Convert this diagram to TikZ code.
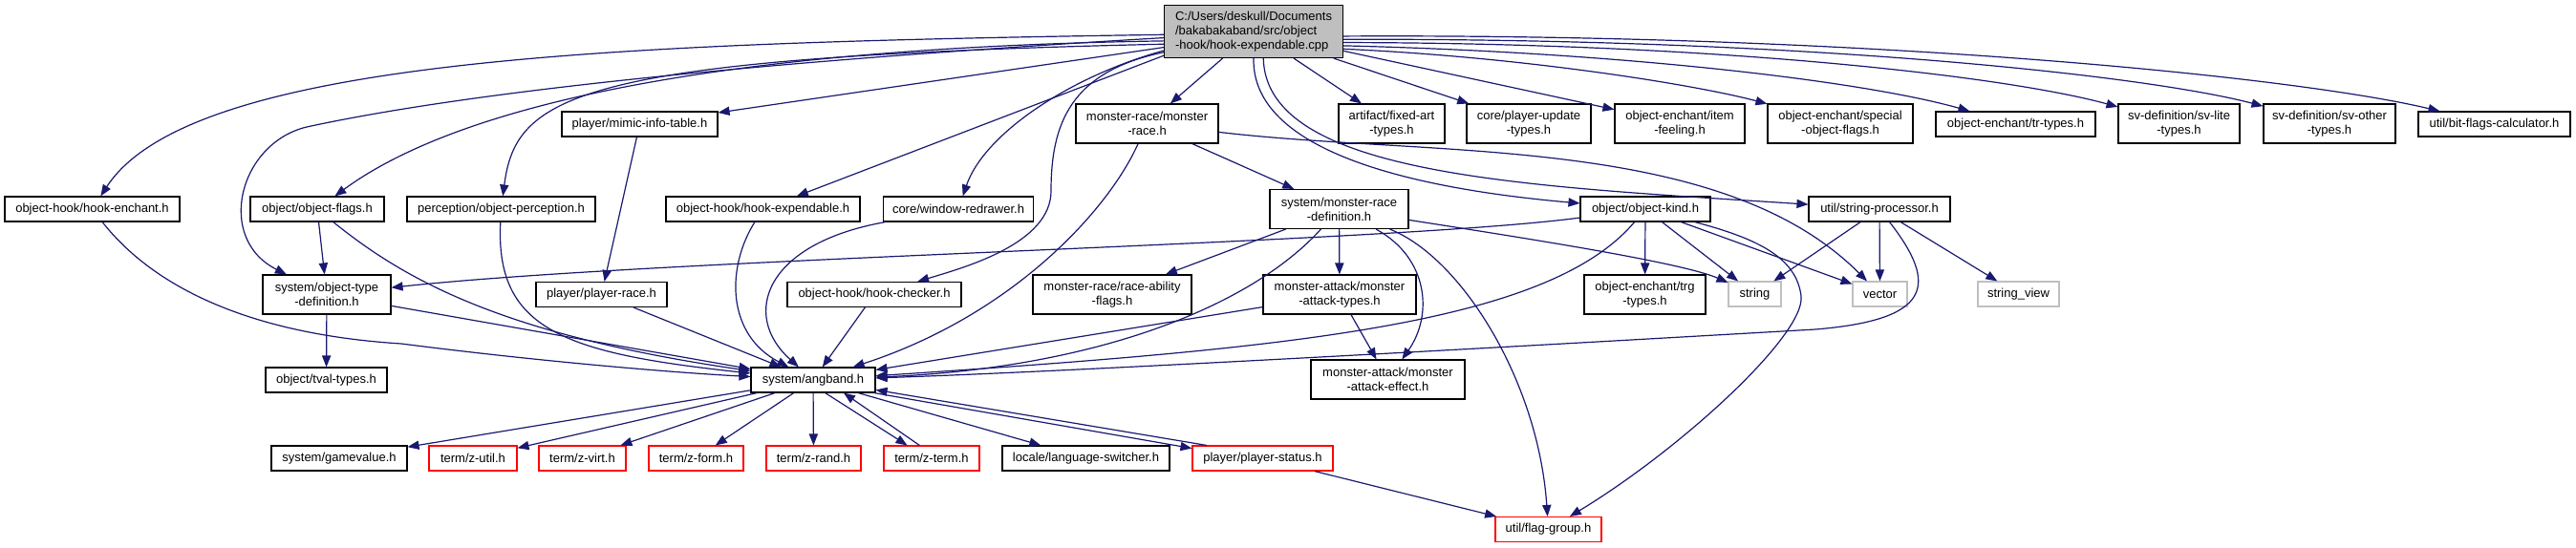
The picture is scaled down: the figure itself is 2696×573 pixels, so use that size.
\documentclass[tikz,border=0pt]{standalone}
\usepackage{fontspec}
\setmainfont{Liberation Sans}
\usetikzlibrary{arrows.meta}
\definecolor{edgeblue}{HTML}{191970}
\definecolor{rootgray}{HTML}{BFBFBF}

\begin{document}
\begin{tikzpicture}[
		x=0.5pt, y=-0.5pt,
		hdr/.style={draw=black, fill=white, line width=0.55pt, inner sep=0pt, align=center, minimum height=13pt, font=\fontsize{6.5}{7.5}\selectfont},
		tall/.style={minimum height=20.5pt},
		rootfile/.style={hdr, fill=rootgray, align=left, minimum height=27.5pt},
		trunc/.style={hdr, draw=red},
		sysfile/.style={hdr, draw=rootgray},
		arrow/.style={-{Triangle[length=6pt, width=4.6pt]}, draw=edgeblue, line width=0.6pt}
	]
		\fill[white] (0,0) rectangle (2696,573);
		\useasboundingbox (0,0) rectangle (2696,573);
		\node[rootfile, minimum width=93.5pt] (root) at (1312,33) {C:/Users/deskull/Documents\\/bakabakaband/src/object\\-hook/hook-expendable.cpp};
		\node[hdr, minimum width=81.5pt] (mimic) at (669.5,130) {player/mimic-info-table.h};
		\node[hdr, tall, minimum width=74.5pt] (monrace) at (1200.5,129.5) {monster-race/monster\\-race.h};
		\node[hdr, tall, minimum width=55.5pt] (artifact) at (1456.5,129.5) {artifact/fixed-art\\-types.h};
		\node[hdr, tall, minimum width=65pt] (plupd) at (1600,129.5) {core/player-update\\-types.h};
		\node[hdr, tall, minimum width=68pt] (itemfeel) at (1758,129.5) {object-enchant/item\\-feeling.h};
		\node[hdr, tall, minimum width=76pt] (specflags) at (1926,129.5) {object-enchant/special\\-object-flags.h};
		\node[hdr, minimum width=83.5pt] (trtypes) at (2109.5,130) {object-enchant/tr-types.h};
		\node[hdr, tall, minimum width=63.5pt] (svlite) at (2280.5,129.5) {sv-definition/sv-lite\\-types.h};
		\node[hdr, tall, minimum width=69pt] (svother) at (2438,129.5) {sv-definition/sv-other\\-types.h};
		\node[hdr, minimum width=79.5pt] (bitflags) at (2610.5,130) {util/bit-flags-calculator.h};
		\node[hdr, minimum width=91.5pt] (hookench) at (96.5,219) {object-hook/hook-enchant.h};
		\node[hdr, minimum width=70pt] (objflags) at (332,219) {object/object-flags.h};
		\node[hdr, minimum width=98.5pt] (objperc) at (524.5,219) {perception/object-perception.h};
		\node[hdr, minimum width=101.5pt] (hookexp) at (798.5,219) {object-hook/hook-expendable.h};
		\node[hdr, minimum width=78.5pt] (winredraw) at (1003,219) {core/window-redrawer.h};
		\node[hdr, tall, minimum width=72.5pt] (mrdef) at (1401.5,219) {system/monster-race\\-definition.h};
		\node[hdr, minimum width=68pt] (objkind) at (1722,219) {object/object-kind.h};
		\node[hdr, minimum width=74pt] (strproc) at (1967,219) {util/string-processor.h};
		\node[hdr, tall, minimum width=67pt] (otdef) at (342,308.5) {system/object-type\\-definition.h};
		\node[hdr, minimum width=68.5pt] (plrace) at (629.5,308.5) {player/player-race.h};
		\node[hdr, minimum width=91pt] (hookcheck) at (915,308.5) {object-hook/hook-checker.h};
		\node[hdr, tall, minimum width=83pt] (raceab) at (1164,308.5) {monster-race/race-ability\\-flags.h};
		\node[hdr, tall, minimum width=80pt] (matypes) at (1402,308.5) {monster-attack/monster\\-attack-types.h};
		\node[hdr, tall, minimum width=63.5pt] (trgtypes) at (1721.5,308.5) {object-enchant/trg\\-types.h};
		\node[sysfile, minimum width=27.5pt] (string) at (1836.5,308) {string};
		\node[sysfile, minimum width=28.5pt] (vector) at (1967.5,308) {vector};
		\node[sysfile, minimum width=42.5pt] (strview) at (2112.5,308) {string\_view};
		\node[hdr, minimum width=63.5pt] (tval) at (341.5,398) {object/tval-types.h};
		\node[hdr, minimum width=65pt] (angband) at (851,398) {system/angband.h};
		\node[hdr, tall, minimum width=80.5pt] (maeffect) at (1452.5,397.5) {monster-attack/monster\\-attack-effect.h};
		\node[hdr, minimum width=71pt] (gamevalue) at (355,480) {system/gamevalue.h};
		\node[trunc, minimum width=46pt] (zutil) at (495,480) {term/z-util.h};
		\node[trunc, minimum width=45.5pt] (zvirt) at (609.5,480) {term/z-virt.h};
		\node[trunc, minimum width=49.5pt] (zform) at (728.5,480) {term/z-form.h};
		\node[trunc, minimum width=49.5pt] (zrand) at (851.5,480) {term/z-rand.h};
		\node[trunc, minimum width=50pt] (zterm) at (975,480) {term/z-term.h};
		\node[hdr, minimum width=87.5pt] (langsw) at (1136.5,480) {locale/language-switcher.h};
		\node[trunc, minimum width=73.5pt] (plstatus) at (1321.5,480) {player/player-status.h};
		\node[trunc, minimum width=55.5pt] (flaggroup) at (1620.5,554.5) {util/flag-group.h};
		\draw[arrow] (root.182) .. controls (650,45) and (200,60) .. (hookench);
		\draw[arrow] (root.184) .. controls (700,70) and (450,105) .. (321,133) .. controls (250,150) and (225,250) .. (otdef);
		\draw[arrow] (root.186) .. controls (750,50) and (480,110) .. (objflags);
		\draw[arrow] (root.188) .. controls (600,60) and (540,100) .. (objperc);
		\draw[arrow] (root.190) -- (mimic);
		\draw[arrow] (root.195) -- (hookexp);
		\draw[arrow] (root.192) .. controls (1120,80) and (1030,140) .. (winredraw);
		\draw[arrow] (root.193) .. controls (1120,75) and (1100,130) .. (1100,200) .. controls (1100,255) and (1010,280) .. (hookcheck);
		\draw[arrow] (root) -- (monrace);
		\draw[arrow] (root.south) .. controls (1310,150) and (1450,195) .. (objkind);
		\draw[arrow] (root.-70) .. controls (1325,185) and (1600,195) .. (strproc);
		\draw[arrow] (root) -- (artifact);
		\draw[arrow] (root) -- (plupd);
		\draw[arrow] (root) -- (itemfeel);
		\draw[arrow] (root.-11) .. controls (1600,60) and (1780,90) .. (specflags);
		\draw[arrow] (root.-9) .. controls (1700,55) and (1950,85) .. (trtypes);
		\draw[arrow] (root.-7) .. controls (1800,45) and (2100,80) .. (svlite);
		\draw[arrow] (root.-5) .. controls (1900,40) and (2250,80) .. (svother);
		\draw[arrow] (root.-3) .. controls (1950,35) and (2400,80) .. (bitflags);
		\draw[arrow] (monrace) -- (mrdef);
		\draw[arrow] (monrace) .. controls (1160,220) and (1060,330) .. (angband);
		\draw[arrow] (monrace) .. controls (1500,165) and (1800,140) .. (vector);
		\draw[arrow] (mrdef) -- (raceab);
		\draw[arrow] (mrdef) .. controls (1310,320) and (1150,385) .. (angband);
		\draw[arrow] (mrdef) -- (matypes);
		\draw[arrow] (mrdef) .. controls (1495,270) and (1500,330) .. (maeffect);
		\draw[arrow] (mrdef) .. controls (1530,270) and (1610,400) .. (flaggroup);
		\draw[arrow] (mrdef) .. controls (1600,250) and (1760,275) .. (string);
		\draw[arrow] (matypes) -- (angband);
		\draw[arrow] (matypes) -- (maeffect);
		\draw[arrow] (objkind) -- (trgtypes);
		\draw[arrow] (objkind) -- (string);
		\draw[arrow] (objkind) -- (vector);
		\draw[arrow] (objkind) .. controls (1840,250) and (1880,270) .. (1885,310) .. controls (1890,350) and (1760,470) .. (flaggroup);
		\draw[arrow] (objkind) .. controls (1620,340) and (1350,365) .. (angband);
		\draw[arrow] (objkind) .. controls (1450,255) and (700,270) .. (otdef);
		\draw[arrow] (strproc) -- (string);
		\draw[arrow] (strproc) -- (vector);
		\draw[arrow] (strproc) -- (strview);
		\draw[arrow] (strproc) .. controls (2030,300) and (2020,335) .. (1900,345) .. controls (1500,368) and (1100,390) .. (angband);
		\draw[arrow] (hookench) .. controls (160,300) and (260,350) .. (420,360) .. controls (560,378) and (700,390) .. (angband);
		\draw[arrow] (objflags) -- (otdef);
		\draw[arrow] (objflags) .. controls (420,290) and (520,350) .. (angband);
		\draw[arrow] (otdef) -- (tval);
		\draw[arrow] (otdef) -- (angband);
		\draw[arrow] (objperc) .. controls (518,345) and (590,370) .. (angband);
		\draw[arrow] (mimic) -- (plrace);
		\draw[arrow] (plrace) -- (angband);
		\draw[arrow] (hookexp) .. controls (760,280) and (760,350) .. (angband);
		\draw[arrow] (winredraw) .. controls (800,255) and (775,330) .. (angband);
		\draw[arrow] (hookcheck) -- (angband);
		\draw[arrow] (angband) -- (gamevalue);
		\draw[arrow] (angband) -- (zutil);
		\draw[arrow] (angband) -- (zvirt);
		\draw[arrow] (angband) -- (zform);
		\draw[arrow] (angband) -- (zrand);
		\draw[arrow] (angband.-47) -- (zterm.152);
		\draw[arrow] (zterm.133) -- (angband.-23);
		\draw[arrow] (angband) -- (langsw);
		\draw[arrow] (angband.-12) -- (plstatus.172);
		\draw[arrow] (plstatus.167) -- (angband.-9);
		\draw[arrow] (plstatus) -- (flaggroup);
	\end{tikzpicture}
\end{document}
